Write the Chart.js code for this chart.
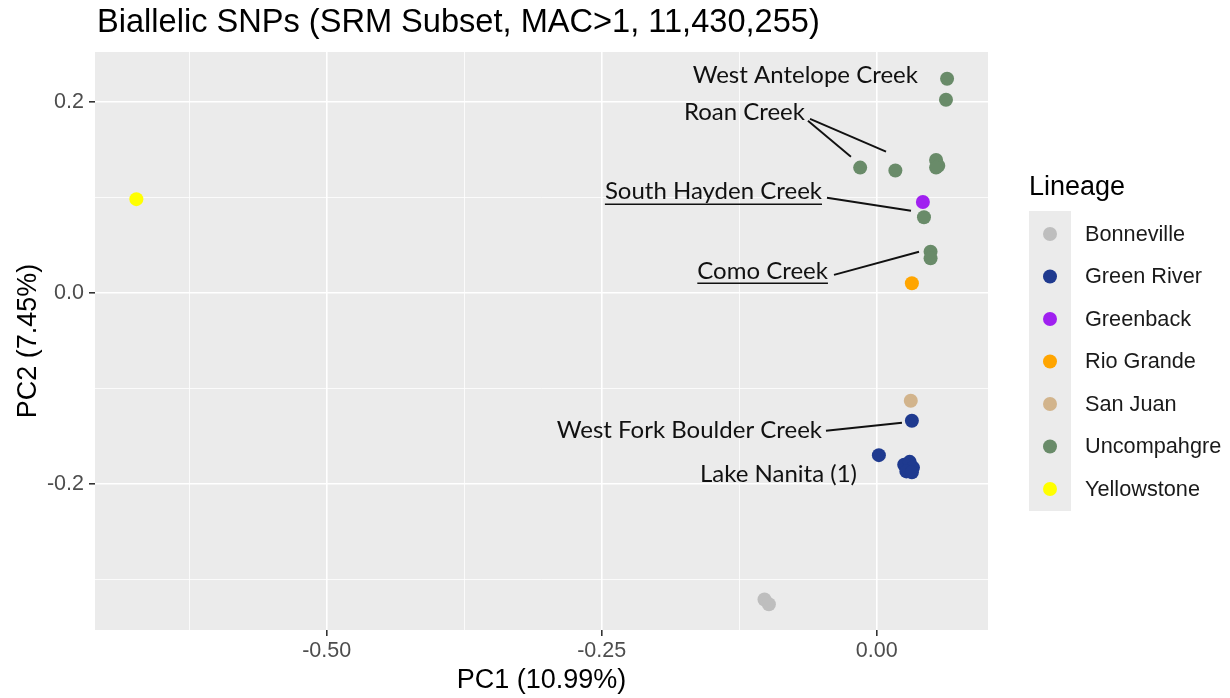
<!DOCTYPE html>
<html>
<head>
<meta charset="utf-8">
<script src="https://cdn.jsdelivr.net/npm/chart.js@4.4.1/dist/chart.umd.min.js"></script>
<style>
  html, body { margin: 0; padding: 0; background: #ffffff; }
  #wrap { width: 1230px; height: 698px; position: relative; }
</style>
</head>
<body>
<div id="wrap"><canvas id="pca"></canvas></div>
<script>
// PCA scores per lineage: [PC1, PC2]
const bonneville  = [[-0.102, -0.321], [-0.098, -0.326]];
const greenRiver  = [[0.032, -0.134], [0.002, -0.170], [0.025, -0.180], [0.030, -0.177],
                     [0.033, -0.183], [0.027, -0.187], [0.032, -0.188]];
const greenback   = [[0.042, 0.095]];
const rioGrande   = [[0.032, 0.010]];
const sanJuan     = [[0.031, -0.113]];
const uncompahgre = [[0.064, 0.224], [0.063, 0.202], [-0.015, 0.131], [0.017, 0.128],
                     [0.054, 0.139], [0.056, 0.133], [0.054, 0.131], [0.043, 0.079],
                     [0.049, 0.043], [0.049, 0.036]];
const yellowstone = [[-0.673, 0.098]];

const lineages = ['Bonneville', 'Green River', 'Greenback', 'Rio Grande', 'San Juan', 'Uncompahgre', 'Yellowstone'];
const lineageColors = ['#bebebe', '#1f3a8f', '#a020f0', '#ffa500', '#d2b48c', '#698b69', '#ffff00'];
const lineagePoints = [bonneville, greenRiver, greenback, rioGrande, sanJuan, uncompahgre, yellowstone];

// Axis ticks (major carry labels, minor are grid only)
const xMajorTicks = [-0.50, -0.25, 0.00];
const xMinorTicks = [-0.625, -0.375, -0.125];
const yMajorTicks = [-0.2, 0.0, 0.2];
const yMinorTicks = [-0.3, -0.1, 0.1];

// Population call-outs: text anchored at its right end, optional leader lines (data units)
const calloutText = ['West Antelope Creek', 'Roan Creek', 'South Hayden Creek', 'Como Creek',
                     'West Fork Boulder Creek', 'Lake Nanita (1)'];
const calloutAnchor = [[0.0375, 0.228], [-0.0652, 0.1885], [-0.0497, 0.1058], [-0.0443, 0.023],
                       [-0.0497, -0.1435], [-0.0179, -0.1895]];
const calloutUnderline = [false, false, true, true, false, false];
const calloutLeaders = [
  [],
  [[[-0.0625, 0.180], [-0.0234, 0.1424]], [[-0.0606, 0.182], [0.0085, 0.1476]]],
  [[[-0.0452, 0.0995], [0.0312, 0.0859]]],
  [[[-0.0388, 0.0188], [0.0385, 0.0429]]],
  [[[-0.0461, -0.1445], [0.0230, -0.1361]]],
  []
];

const SANS = '"Liberation Sans", Arial, sans-serif';
const CALLOUT_FONT = 'Lato, "Open Sans", sans-serif';

const datasets = lineages.map((name, i) => ({
  label: name,
  data: lineagePoints[i].map(p => ({ x: p[0], y: p[1] })),
  backgroundColor: lineageColors[i],
  borderWidth: 0,
  pointRadius: 7,
  pointHoverRadius: 7
}));

const panelPlugin = {
  id: 'panel',
  beforeDraw(chart) {
    const { ctx, chartArea: a } = chart;
    ctx.save();
    ctx.fillStyle = '#ebebeb';
    ctx.fillRect(a.left, a.top, a.right - a.left, a.bottom - a.top);
    ctx.restore();
  },
  afterDraw(chart) {
    const { ctx, scales } = chart;
    const xs = scales.x, ys = scales.y;
    ctx.save();
    // title
    ctx.fillStyle = '#000000';
    ctx.font = '32.6px ' + SANS;
    ctx.textAlign = 'left';
    ctx.textBaseline = 'middle';
    ctx.fillText('Biallelic SNPs (SRM Subset, MAC>1, 11,430,255)', 97, 23);

    // call-outs
    ctx.font = '24px ' + CALLOUT_FONT;
    ctx.fillStyle = '#111111';
    ctx.strokeStyle = '#111111';
    ctx.textAlign = 'right';
    calloutText.forEach((t, i) => {
      const px = xs.getPixelForValue(calloutAnchor[i][0]);
      const py = ys.getPixelForValue(calloutAnchor[i][1]);
      ctx.fillText(t, px, py);
      if (calloutUnderline[i]) {
        const w = ctx.measureText(t).width;
        ctx.lineWidth = 1.4;
        ctx.beginPath();
        ctx.moveTo(px - w, py + 12.5);
        ctx.lineTo(px, py + 12.5);
        ctx.stroke();
      }
      ctx.lineWidth = 1.9;
      calloutLeaders[i].forEach(seg => {
        ctx.beginPath();
        ctx.moveTo(xs.getPixelForValue(seg[0][0]), ys.getPixelForValue(seg[0][1]));
        ctx.lineTo(xs.getPixelForValue(seg[1][0]), ys.getPixelForValue(seg[1][1]));
        ctx.stroke();
      });
    });

    // legend
    ctx.textAlign = 'left';
    ctx.fillStyle = '#000000';
    ctx.font = '27px ' + SANS;
    ctx.fillText('Lineage', 1029, 188);
    ctx.fillStyle = '#ebebeb';
    ctx.fillRect(1029, 211, 42, 300);
    ctx.font = '21.7px ' + SANS;
    chart.data.datasets.forEach((ds, i) => {
      const cy = 234 + i * 42.5;
      ctx.fillStyle = ds.backgroundColor;
      ctx.beginPath();
      ctx.arc(1050, cy, 7, 0, Math.PI * 2);
      ctx.fill();
      ctx.fillStyle = '#1a1a1a';
      ctx.fillText(ds.label, 1085, cy + 1);
    });
    ctx.restore();
  }
};

function isMajor(list, v) { return list.some(t => Math.abs(t - v) < 1e-9); }

new Chart(document.getElementById('pca'), {
  type: 'scatter',
  data: { datasets },
  options: {
    responsive: true,
    maintainAspectRatio: false,
    animation: false,
    layout: { padding: { left: 0, top: 52, right: 242, bottom: 0 } },
    plugins: { legend: { display: false }, tooltip: { enabled: false }, title: { display: false } },
    scales: {
      x: {
        type: 'linear',
        min: -0.7106, max: 0.1012,
        afterBuildTicks(scale) {
          scale.ticks = xMinorTicks.concat(xMajorTicks).sort((a, b) => a - b).map(v => ({ value: v }));
        },
        afterFit(scale) { scale.height = 68; },
        border: { display: false },
        grid: {
          drawTicks: true,
          tickLength: 6,
          color: c => '#ffffff',
          lineWidth: c => isMajor(xMajorTicks, c.tick.value) ? 1.6 : 0.8,
          tickColor: c => isMajor(xMajorTicks, c.tick.value) ? '#333333' : 'rgba(0,0,0,0)',
          tickWidth: 1.6
        },
        ticks: {
          autoSkip: false,
          maxRotation: 0,
          padding: 2,
          color: '#4d4d4d',
          font: { family: SANS, size: 21.5 },
          callback: v => isMajor(xMajorTicks, v) ? v.toFixed(2) : ''
        },
        title: {
          display: true,
          text: 'PC1 (10.99%)',
          color: '#000000',
          font: { family: SANS, size: 27 },
          padding: { top: 0, bottom: 1 }
        }
      },
      y: {
        type: 'linear',
        min: -0.353, max: 0.252,
        afterBuildTicks(scale) {
          scale.ticks = yMinorTicks.concat(yMajorTicks).sort((a, b) => a - b).map(v => ({ value: v }));
        },
        afterFit(scale) { scale.width = 95; },
        border: { display: false },
        grid: {
          drawTicks: true,
          tickLength: 6,
          color: c => '#ffffff',
          lineWidth: c => isMajor(yMajorTicks, c.tick.value) ? 1.6 : 0.8,
          tickColor: c => isMajor(yMajorTicks, c.tick.value) ? '#333333' : 'rgba(0,0,0,0)',
          tickWidth: 1.6
        },
        ticks: {
          autoSkip: false,
          padding: 5,
          color: '#4d4d4d',
          font: { family: SANS, size: 21.5 },
          callback: v => isMajor(yMajorTicks, v) ? v.toFixed(1) : ''
        },
        title: {
          display: true,
          text: 'PC2 (7.45%)',
          color: '#000000',
          font: { family: SANS, size: 27 },
          padding: { top: 12, bottom: 0 }
        }
      }
    }
  },
  plugins: [panelPlugin]
});
</script>
</body>
</html>
